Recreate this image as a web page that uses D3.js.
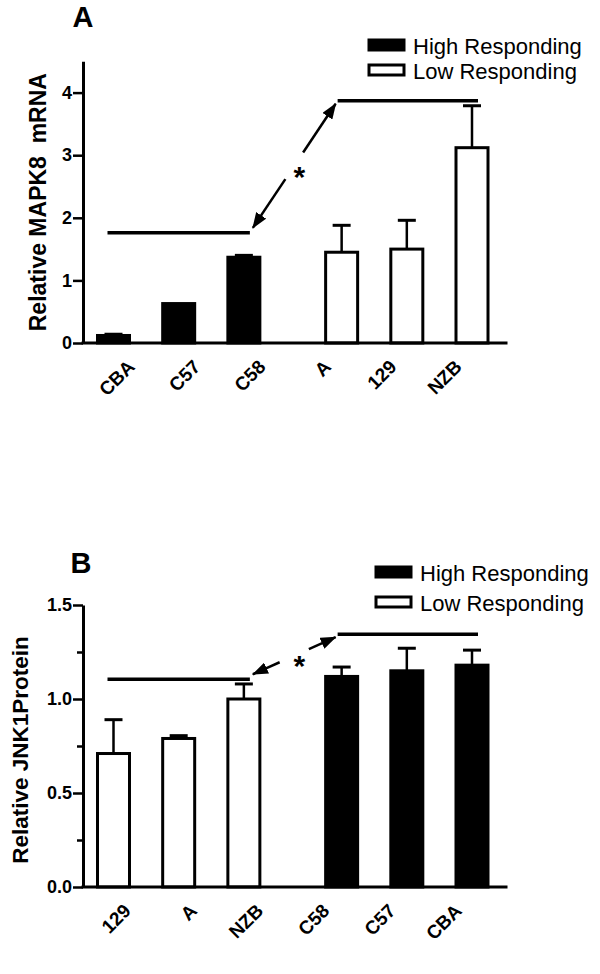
<!DOCTYPE html>
<html>
<head>
<meta charset="utf-8">
<script src="https://cdn.jsdelivr.net/npm/d3@7"></script>
<style>
  body { margin: 0; background: #fff; }
  svg { display: block; }
  text { font-family: Arial, "Liberation Sans", sans-serif; }
</style>
</head>
<body>
<svg id="chart" width="600" height="974"></svg>
<script>
// panel A: MAPK8 mRNA
var catsA = ["CBA", "C57", "C58", "A", "129", "NZB"];
var meansA = [0.12, 0.63, 1.37, 1.45, 1.50, 3.12];
var errsA = [0.02, 0, 0.03, 0.43, 0.46, 0.67];
var groupsA = ["high", "high", "high", "low", "low", "low"];
var ticksA = [0, 1, 2, 3, 4];
var sigA = [1.76, 3.87];

// panel B: JNK1 protein
var catsB = ["129", "A", "NZB", "C58", "C57", "CBA"];
var meansB = [0.71, 0.79, 1.00, 1.12, 1.15, 1.18];
var errsB = [0.18, 0.015, 0.08, 0.05, 0.12, 0.08];
var groupsB = ["low", "low", "low", "high", "high", "high"];
var ticksB = [0, 0.5, 1.0, 1.5];
var minorB = [0.25, 0.75, 1.25];
var sigB = [1.105, 1.345];

var legendLabels = ["High Responding", "Low Responding"];
var legendGroups = ["high", "low"];

var svg = d3.select("#chart");

svg.append("defs").append("marker")
  .attr("id", "head")
  .attr("viewBox", "0 0 16 12")
  .attr("refX", 15)
  .attr("refY", 6)
  .attr("markerWidth", 16)
  .attr("markerHeight", 12)
  .attr("markerUnits", "userSpaceOnUse")
  .attr("orient", "auto-start-reverse")
  .append("path")
  .attr("d", "M0,0 L16,6 L0,12 Z")
  .attr("fill", "#000");

function drawPanel(p) {
  var g = svg.append("g");
  var y = d3.scaleLinear().domain([0, p.ymax]).range([p.y0, p.ytop]);

  // bar slots, with half a slot extra between the two groups
  var slots = [];
  var s = 0;
  p.groups.forEach(function(gr, i) {
    if (i > 0) s += (gr === p.groups[i - 1]) ? 1 : 1.5;
    slots.push(s);
  });
  var xBar = d3.scaleLinear().domain([0, d3.max(slots)]).range(p.barRange);
  var xLab = d3.scalePoint().domain(p.cats).range(p.labRange);

  var rows = p.cats.map(function(c, i) {
    return { cat: c, mean: p.means[i], err: p.errs[i], group: p.groups[i], slot: slots[i] };
  });

  // error bars (upward only)
  var eb = g.selectAll(".err").data(rows.filter(function(d) { return d.err > 0; }))
    .enter().append("g");
  eb.append("line")
    .attr("x1", function(d) { return xBar(d.slot); })
    .attr("x2", function(d) { return xBar(d.slot); })
    .attr("y1", function(d) { return y(d.mean); })
    .attr("y2", function(d) { return y(d.mean + d.err); })
    .attr("stroke", "#000").attr("stroke-width", 2.5);
  eb.append("line")
    .attr("x1", function(d) { return xBar(d.slot) - 9; })
    .attr("x2", function(d) { return xBar(d.slot) + 9; })
    .attr("y1", function(d) { return y(d.mean + d.err); })
    .attr("y2", function(d) { return y(d.mean + d.err); })
    .attr("stroke", "#000").attr("stroke-width", 3);

  // bars
  g.selectAll(".bar").data(rows).enter()
    .append("rect")
    .attr("x", function(d) { return xBar(d.slot) - 16; })
    .attr("width", 32)
    .attr("y", function(d) { return y(d.mean); })
    .attr("height", function(d) { return p.y0 - y(d.mean); })
    .attr("fill", function(d) { return d.group === "high" ? "#000" : "#fff"; })
    .attr("stroke", "#000")
    .attr("stroke-width", 3);

  // axes
  var yaxis = d3.axisLeft(y).tickValues(p.ticks).tickSize(10).tickSizeOuter(0)
    .tickPadding(1).tickFormat(d3.format(p.fmt));
  var ax = g.append("g").attr("transform", "translate(" + p.x0 + ",0)").call(yaxis);
  ax.select(".domain").attr("stroke-width", 3);
  ax.selectAll(".tick line").attr("stroke-width", 2.5);
  ax.selectAll(".tick text")
    .style("font-size", "18px").style("font-weight", "bold").attr("fill", "#000");
  if (p.minor) {
    var mx = g.append("g").attr("transform", "translate(" + p.x0 + ",0)")
      .call(d3.axisLeft(y).tickValues(p.minor).tickSize(6).tickFormat(""));
    mx.select(".domain").remove();
    mx.selectAll(".tick line").attr("stroke-width", 2.5);
  }
  g.append("line")
    .attr("x1", p.x0).attr("x2", p.xend)
    .attr("y1", p.y0).attr("y2", p.y0)
    .attr("stroke", "#000").attr("stroke-width", 3).attr("stroke-linecap", "square");

  // category labels
  g.selectAll(".lab").data(rows).enter()
    .append("text")
    .attr("transform", function(d) {
      return "translate(" + xLab(d.cat) + "," + (p.y0 + 25) + ") rotate(-45)";
    })
    .attr("text-anchor", "end")
    .style("font-size", "19px").style("font-weight", "bold")
    .text(function(d) { return d.cat; });

  // y title
  g.append("text")
    .attr("transform", "translate(" + p.titleX + "," + ((p.y0 + p.ytop) / 2 + p.titleDy) + ") rotate(-90)")
    .attr("text-anchor", "middle")
    .attr("dominant-baseline", "central")
    .style("font-size", p.titleSize + "px").style("font-weight", "bold")
    .text(p.title);

  // panel letter
  g.append("text")
    .attr("x", p.letterX).attr("y", p.letterY)
    .attr("text-anchor", "middle")
    .style("font-size", "29px").style("font-weight", "bold")
    .text(p.letter);

  // legend
  var lg = g.append("g");
  legendLabels.forEach(function(l, i) {
    var ly = p.legY + i * p.legStep;
    lg.append("rect")
      .attr("x", p.legX).attr("y", ly - 5)
      .attr("width", 35).attr("height", 10)
      .attr("fill", legendGroups[i] === "high" ? "#000" : "#fff")
      .attr("stroke", "#000").attr("stroke-width", 3);
    lg.append("text")
      .attr("x", p.legX + 44).attr("y", ly + 1)
      .attr("dominant-baseline", "central")
      .style("font-size", "22px")
      .text(l);
  });

  // significance brackets
  var first = rows.slice(0, 3), second = rows.slice(3);
  var lowRows = d3.mean(first, function(d) { return d.mean; }) < d3.mean(second, function(d) { return d.mean; }) ? first : second;
  var highRows = lowRows === first ? second : first;
  var lowX = [xBar(lowRows[0].slot) - 6, xBar(lowRows[2].slot) + 6];
  var highX = [xBar(highRows[0].slot) - 4, xBar(highRows[2].slot) + 6];
  g.append("line").attr("x1", lowX[0]).attr("x2", lowX[1])
    .attr("y1", y(p.sig[0])).attr("y2", y(p.sig[0]))
    .attr("stroke", "#000").attr("stroke-width", 3.5);
  g.append("line").attr("x1", highX[0]).attr("x2", highX[1])
    .attr("y1", y(p.sig[1])).attr("y2", y(p.sig[1]))
    .attr("stroke", "#000").attr("stroke-width", 3.5);

  var a0 = [lowX[1] + 3, y(p.sig[0]) - 5];
  var a1 = [highX[0] - 2, y(p.sig[1]) + 3];
  var len = Math.hypot(a1[0] - a0[0], a1[1] - a0[1]);
  var ux = (a1[0] - a0[0]) / len, uy = (a1[1] - a0[1]) / len;
  var mid = [(a0[0] + a1[0]) / 2, (a0[1] + a1[1]) / 2];
  var gap = 16;
  g.append("line")
    .attr("x1", mid[0] - ux * gap).attr("y1", mid[1] - uy * gap)
    .attr("x2", a0[0]).attr("y2", a0[1])
    .attr("stroke", "#000").attr("stroke-width", 2.5)
    .attr("marker-end", "url(#head)");
  g.append("line")
    .attr("x1", mid[0] + ux * gap).attr("y1", mid[1] + uy * gap)
    .attr("x2", a1[0]).attr("y2", a1[1])
    .attr("stroke", "#000").attr("stroke-width", 2.5)
    .attr("marker-end", "url(#head)");
  g.append("text")
    .attr("x", mid[0] + 5).attr("y", mid[1] + p.starDy)
    .attr("text-anchor", "middle")
    .style("font-size", "30px").style("font-weight", "bold")
    .text("*");
}

drawPanel({
  cats: catsA, means: meansA, errs: errsA, groups: groupsA,
  ticks: ticksA, fmt: "d", ymax: 4.5, sig: sigA,
  x0: 83, xend: 506, y0: 343, ytop: 61.3,
  barRange: [113.5, 472], labRange: [136, 463],
  title: "Relative MAPK8\u00a0\u00a0mRNA", titleX: 38, titleDy: 0, titleSize: 23,
  letter: "A", letterX: 83, letterY: 27,
  legX: 369, legY: 45, legStep: 25, starDy: 21
});

drawPanel({
  cats: catsB, means: meansB, errs: errsB, groups: groupsB,
  ticks: ticksB, minor: minorB, fmt: ".1f", ymax: 1.5, sig: sigB,
  x0: 83, xend: 506, y0: 887, ytop: 605,
  barRange: [113.5, 472], labRange: [132, 463],
  title: "Relative JNK1Protein", titleX: 20, titleDy: 4, titleSize: 22.5,
  letter: "B", letterX: 81, letterY: 573,
  legX: 376, legY: 572, legStep: 30, starDy: 20
});
</script>
</body>
</html>
